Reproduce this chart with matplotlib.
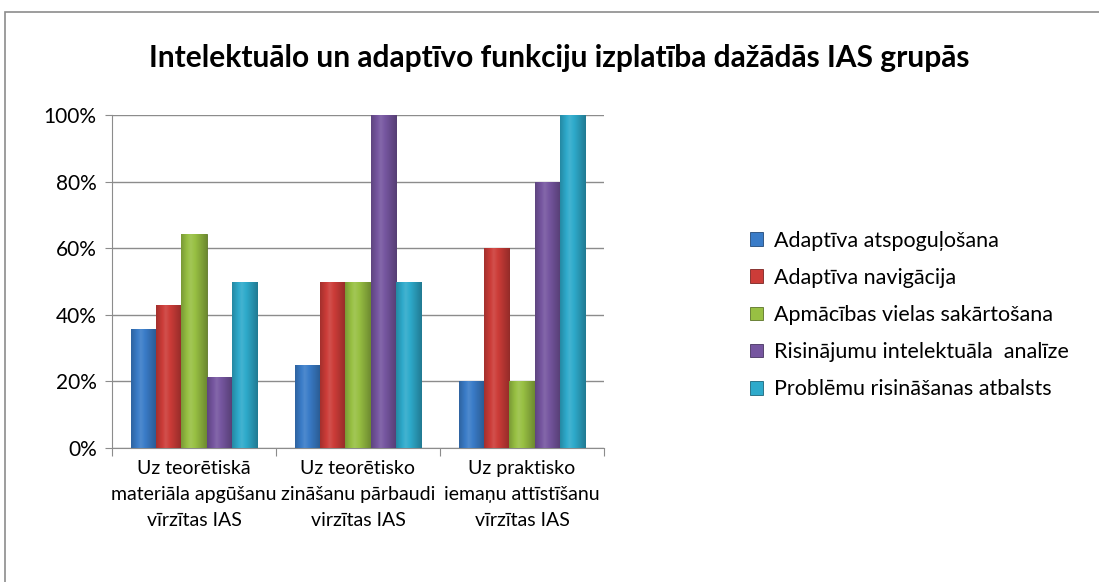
import matplotlib
matplotlib.use("Agg")
import matplotlib.pyplot as plt
import numpy as np
from matplotlib.colors import to_rgb
from matplotlib.patches import Rectangle

plt.rcParams["font.family"] = ["Lato", "DejaVu Sans"]

# ─── DATA ─────────────────────────────────────────────────────────────────────
title = "Intelektuālo un adaptīvo funkciju izplatība dažādās IAS grupās"
categories = [
    "Uz teorētiskā\nmateriāla apgūšanu\nvīrzītas IAS",
    "Uz teorētisko\nzināšanu pārbaudi\nvirzītas IAS",
    "Uz praktisko\niemaņu attīstīšanu\nvīrzītas IAS",
]
series = [
    "Adaptīva atspoguļošana",
    "Adaptīva navigācija",
    "Apmācības vielas sakārtošana",
    "Risinājumu intelektuāla  analīze",
    "Problēmu risināšanas atbalsts",
]
values = [
    [35.7, 25.0, 20.0],
    [42.9, 50.0, 60.0],
    [64.3, 50.0, 20.0],
    [21.4, 100.0, 80.0],
    [50.0, 50.0, 100.0],
]
colors = ["#3a7cc8", "#cc3c38", "#98c043", "#7656a0", "#2eaacb"]
yticks = [0, 20, 40, 60, 80, 100]


def shade(c, f):
    r = np.array(to_rgb(c))
    if f >= 1:
        return r + (1 - r) * (f - 1)
    return r * f


# ─── FIGURE ───────────────────────────────────────────────────────────────────
fig = plt.figure(figsize=(10.99, 5.82), dpi=100)
fig.patches.append(Rectangle((5 / 1099, -0.1), 1.2, 1 - 12 / 582 + 0.1,
                             transform=fig.transFigure, fill=False,
                             edgecolor="#8c8c8c", lw=1.2))

ax = fig.add_axes([112 / 1099, 1 - 448 / 582, (604 - 112) / 1099, (448 - 115) / 582])

n = len(series)
w = 1 / (n + 1.5)
x = np.arange(len(categories)) + 0.5

# horizontal gradient profile for the glossy Excel look
prof = np.concatenate([np.linspace(0.8, 1.1, 30), np.linspace(1.1, 0.72, 50)])

for i, (name, vals, c) in enumerate(zip(series, values, colors)):
    pos = x + (i - (n - 1) / 2) * w
    bars = ax.bar(pos, vals, w, color=c, edgecolor=shade(c, 0.6), lw=0.6,
                  label=name, zorder=3)
    img = np.array([[shade(c, f) for f in prof]])
    for b in bars:
        im = ax.imshow(img, extent=(b.get_x(), b.get_x() + b.get_width(), 0, b.get_height()),
                       aspect="auto", zorder=3.5, interpolation="bilinear")
        im.set_clip_path(b)

ax.set_xlim(0, 3)
ax.set_ylim(0, 100)

ax.set_yticks(yticks)
ax.set_yticklabels([f"{t}%" for t in yticks], fontsize=15)
ax.yaxis.grid(True, color="#8c8c8c", lw=1, zorder=0)
ax.set_xticks([0, 1, 2, 3])
ax.set_xticklabels([])
ax.tick_params(axis="x", length=6, color="#8c8c8c", direction="out")
ax.tick_params(axis="y", length=5, color="#8c8c8c", direction="out", pad=6)
for i, lab in enumerate(categories):
    ax.text(x[i], -3.5, lab, ha="center", va="top", fontsize=14, linespacing=1.65)

for s in ["top", "right"]:
    ax.spines[s].set_visible(False)
for s in ["left", "bottom"]:
    ax.spines[s].set_color("#8c8c8c")

fig.text(559 / 1099, 1 - 58 / 582, title, ha="center", va="center",
         fontsize=21.5, fontweight="bold")

leg = fig.legend(loc="center left", bbox_to_anchor=(750 / 1099, 1 - 315 / 582),
                 frameon=False, fontsize=15.5, handlelength=0.6, handleheight=0.6,
                 handletextpad=0.5, labelspacing=0.8, borderpad=0, borderaxespad=0)

fig.savefig("out.png", dpi=100)
